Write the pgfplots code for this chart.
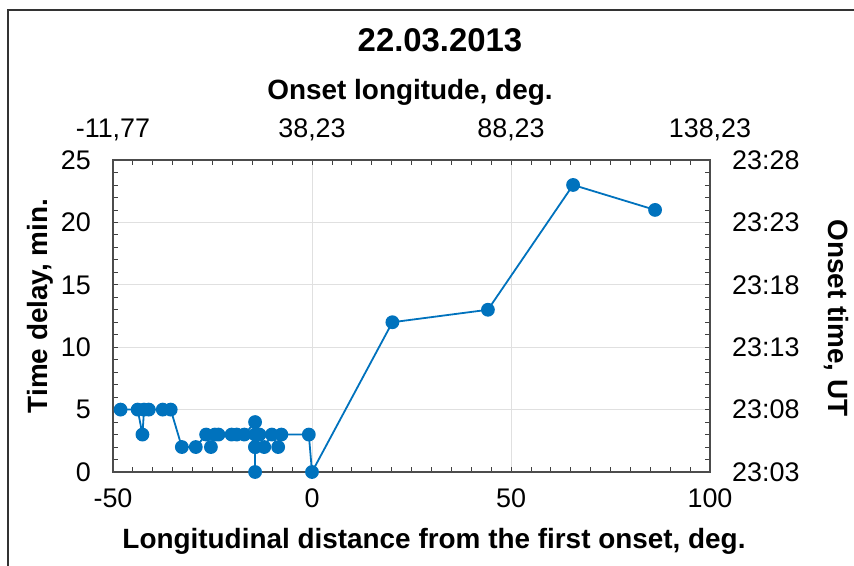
\documentclass[border=0pt]{standalone}
\usepackage{pgfplots}
\pgfplotsset{compat=1.18}
\usepackage{fontspec}
\setmainfont{Liberation Sans}
\definecolor{mblue}{RGB}{0,114,189}
\begin{document}
\begin{tikzpicture}[x=1bp,y=1bp]
\useasboundingbox (-113,-94) rectangle (741,472);
\draw[line width=1.3bp, black!80] (-105,-100) -- (-105,462) -- (750,462);
\begin{axis}[
  at={(0,0)}, anchor=south west,
  scale only axis, width=597bp, height=312bp,
  xmin=-50, xmax=100, ymin=0, ymax=25,
  xtick={-50,0,50,100}, xticklabels={-50,0,50,100},
  ytick={0,5,10,15,20,25}, yticklabels={0,5,10,15,20,25},
  minor x tick num=9, minor y tick num=4,
  tick align=inside,
  major tick length=5bp, minor tick length=5bp,
  every tick/.style={black!75, line width=0.8bp},
  axis line style={black!70, line width=1.2bp},
  grid=major, major grid style={black!12, line width=1bp},
  tick label style={font=\fontsize{27}{30}\selectfont, inner sep=0pt, text depth=0pt},
  xticklabel shift=17bp, yticklabel shift=22bp,
]
\addplot[mblue, line width=1.8bp, mark=*, mark size=6bp, mark options={fill=mblue, draw=mblue}] coordinates {
(-48.1,5) (-43.8,5) (-42.6,3) (-42.2,5) (-41,5) (-37.5,5) (-35.5,5)
(-32.7,2) (-29.2,2) (-26.6,3) (-25.4,2) (-24.4,3) (-23.5,3) (-20.2,3)
(-18.9,3) (-17,3) (-14.3,4) (-14.3,3) (-14.3,2) (-14.3,0) (-14.3,2)
(-13.2,3) (-12,2) (-10.1,3) (-8.5,2) (-7.7,3) (-0.8,3) (0,0)
(20.2,12) (44.2,13) (65.6,23) (86.2,21)
};
\end{axis}
\begin{axis}[
  at={(0,0)}, anchor=south west,
  scale only axis, width=597bp, height=312bp,
  xmin=-50, xmax=100, ymin=0, ymax=25,
  axis x line*=top, axis y line*=right,
  axis line style={draw=none},
  xtick={-50,0,50,100}, xticklabels={{-11,77},{38,23},{88,23},{138,23}},
  ytick={0,5,10,15,20,25}, yticklabels={23:03,23:08,23:13,23:18,23:23,23:28},
  major tick length=0pt, minor tick num=0,
  tick label style={font=\fontsize{27}{30}\selectfont, inner sep=0pt, text depth=0pt},
  xticklabel shift=22bp, yticklabel shift=22bp,
]
\addplot[draw=none] coordinates {(-50,0) (100,25)};
\end{axis}
\node[font=\bfseries\fontsize{33}{36}\selectfont] at (327,432) {22.03.2013};
\node[font=\bfseries\fontsize{28}{30}\selectfont] at (297,380) {Onset longitude, deg.};
\node[font=\bfseries\fontsize{28}{30}\selectfont] at (321,-69) {Longitudinal distance from the first onset, deg.};
\node[font=\bfseries\fontsize{28}{30}\selectfont, rotate=90] at (-73,166) {Time delay, min.};
\node[font=\bfseries\fontsize{28}{30}\selectfont, rotate=-90] at (723,154) {Onset time, UT};
\end{tikzpicture}
\end{document}
